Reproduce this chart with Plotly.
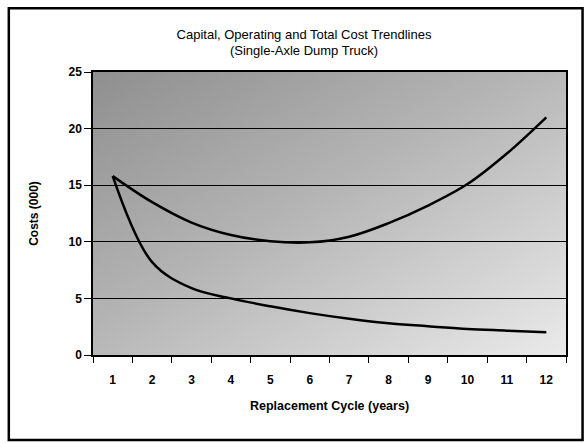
import base64
import plotly.graph_objects as go

# Data
cycle_years = ["1", "2", "3", "4", "5", "6", "7", "8", "9", "10", "11", "12"]
total_cost = [15.8, 13.5, 11.7, 10.6, 10.05, 9.95, 10.45, 11.65, 13.2, 15.1, 17.8, 21.0]
capital_cost = [15.8, 8.2, 5.9, 5.0, 4.3, 3.7, 3.2, 2.8, 2.55, 2.3, 2.15, 2.0]
y_ticks = [0, 5, 10, 15, 20, 25]

FONT = "Liberation Sans, Arial, sans-serif"

# Diagonal grey gradient background (as in the scanned chart)
svg = (
    '<svg xmlns="http://www.w3.org/2000/svg" width="100" height="100" preserveAspectRatio="none">'
    '<defs><linearGradient id="g" x1="0" y1="0" x2="1" y2="1">'
    '<stop offset="0" stop-color="#8f8f8f"/>'
    '<stop offset="0.45" stop-color="#b4b4b4"/>'
    '<stop offset="1" stop-color="#eaeaea"/>'
    '</linearGradient></defs>'
    '<rect width="100" height="100" fill="url(#g)"/></svg>'
)
bg_src = "data:image/svg+xml;base64," + base64.b64encode(svg.encode()).decode()

fig = go.Figure()
fig.add_trace(go.Scatter(
    x=cycle_years, y=total_cost, mode="lines", name="Total",
    line=dict(color="black", width=2.5, shape="spline", smoothing=1.0),
))
fig.add_trace(go.Scatter(
    x=cycle_years, y=capital_cost, mode="lines", name="Capital",
    line=dict(color="black", width=2.5, shape="spline", smoothing=1.0),
))

fig.update_layout(
    width=588, height=443,
    margin=dict(l=93, r=22, t=72, b=88),
    paper_bgcolor="white",
    plot_bgcolor="rgba(0,0,0,0)",
    showlegend=False,
    font=dict(family=FONT, color="black"),
    title=dict(
        text="Capital, Operating and Total Cost Trendlines<br>(Single-Axle Dump Truck)",
        x=0.517, xanchor="center", y=0.913, yanchor="top",
        font=dict(size=13, family=FONT, color="black"),
    ),
    images=[dict(
        source=bg_src, xref="paper", yref="paper", x=0, y=1,
        sizex=1, sizey=1, sizing="stretch", layer="below",
        xanchor="left", yanchor="top",
    )],
    shapes=[dict(
        type="rect", xref="paper", yref="paper",
        x0=-0.178, x1=1.035, y0=-0.30, y1=1.225,
        line=dict(color="black", width=2.5), fillcolor="rgba(0,0,0,0)",
        layer="above",
    )],
)

fig.update_xaxes(
    type="category", range=[-0.5, 11.5],
    tickson="boundaries", ticks="outside", ticklen=6, tickcolor="black",
    ticklabelstandoff=13,
    showgrid=False, showline=True, linecolor="black", linewidth=1.5, mirror=True,
    tickfont=dict(size=12, family=FONT, color="black", weight="bold"),
    title=dict(text="Replacement Cycle (years)",
               font=dict(size=12.5, family=FONT, color="black", weight="bold"), standoff=15),
)
fig.update_yaxes(
    range=[0, 25], tickvals=y_ticks, ticks="outside", ticklen=7, tickcolor="black",
    showgrid=True, gridcolor="black", gridwidth=1,
    showline=True, linecolor="black", linewidth=1.5, mirror=True, zeroline=False,
    tickfont=dict(size=12, family=FONT, color="black", weight="bold"),
    title=dict(text="Costs (000)",
               font=dict(size=12, family=FONT, color="black", weight="bold"), standoff=27),
)

fig.write_html("out.html", config={"displayModeBar": False},
               post_script="document.body.style.margin='0';")
